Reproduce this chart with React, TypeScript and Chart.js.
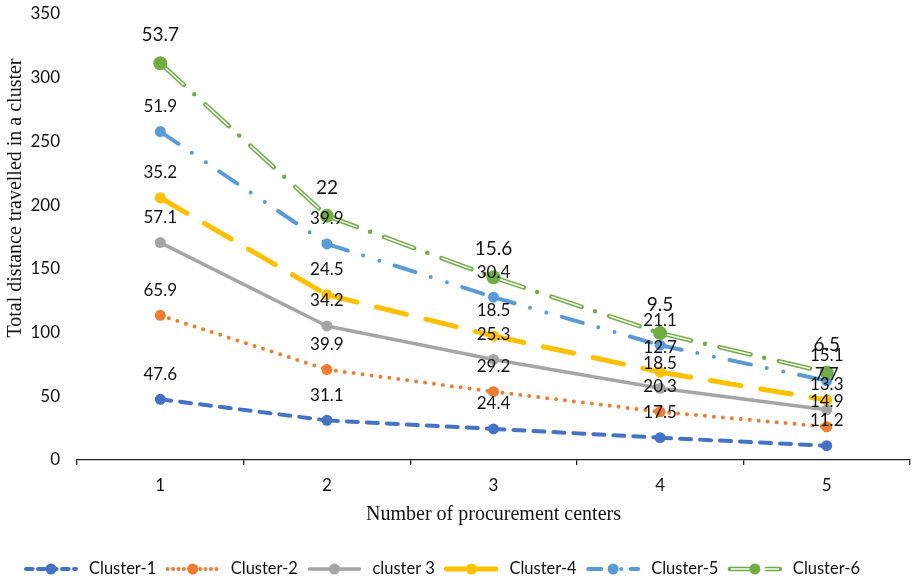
import { useEffect, useRef } from "react";
import { Chart, registerables } from "chart.js";

Chart.register(...registerables);

// Number of procurement centers (x categories)
const centers = ["1", "2", "3", "4", "5"];

// Distance travelled within each cluster, per number of centers
const cluster1 = [47.6, 31.1, 24.4, 17.5, 11.2];
const cluster2 = [65.9, 39.9, 29.2, 20.3, 14.9];
const cluster3 = [57.1, 34.2, 25.3, 18.5, 13.3];
const cluster4 = [35.2, 24.5, 18.5, 12.7, 7.7];
const cluster5 = [51.9, 39.9, 30.4, 21.1, 15.1];
const cluster6 = [53.7, 22, 15.6, 9.5, 6.5];

const seriesNames = ["Cluster-1", "Cluster-2", "cluster 3", "Cluster-4", "Cluster-5", "Cluster-6"];
const seriesValues = [cluster1, cluster2, cluster3, cluster4, cluster5, cluster6];

const yMin = 0;
const yMax = 350;
const yStep = 50;

const xTitle = "Number of procurement centers";
const yTitle = "Total distance travelled in a cluster";

type LineStyle = {
  color: string;
  width: number;
  dash: number[];
  radius: number;
  labelFont: number;
  labelGap: number;
  double?: boolean;
};

const lineStyles: LineStyle[] = [
  { color: "#4472C4", width: 4, dash: [11, 9], radius: 5.5, labelFont: 17, labelGap: 25 },
  { color: "#ED7D31", width: 4, dash: [0, 9], radius: 5.5, labelFont: 17, labelGap: 25 },
  { color: "#A5A5A5", width: 3.5, dash: [], radius: 5.5, labelFont: 17, labelGap: 25 },
  { color: "#FFC000", width: 5, dash: [31, 20], radius: 5.5, labelFont: 17, labelGap: 25 },
  { color: "#5B9BD5", width: 4, dash: [22, 16, 0, 17, 0, 16], radius: 5.5, labelFont: 17, labelGap: 25 },
  { color: "#70AD47", width: 4.5, dash: [32, 14, 0, 15], radius: 7, labelFont: 19, labelGap: 28, double: true },
];

const SANS = "Lato, 'Open Sans', sans-serif";
const SERIF = "'Liberation Serif', 'Times New Roman', serif";
const INK = "#111";

// Each series sits on top of the ones before it (running totals)
const cumulative: number[][] = [];
seriesValues.forEach((vals, i) => {
  cumulative.push(vals.map((v, j) => (i === 0 ? 0 : cumulative[i - 1][j]) + v));
});

// restart the dash pattern at every point, one stroke per segment
const perSegment = {
  borderDashOffset: (c: any) => c.p0DataIndex * 0.001,
};

function buildDatasets() {
  const sets: any[] = [];
  seriesNames.forEach((name, i) => {
    const st = lineStyles[i];
    const base = {
      label: name,
      data: cumulative[i],
      borderColor: st.color,
      backgroundColor: st.color,
      borderWidth: st.width,
      borderDash: st.dash,
      borderCapStyle: "round",
      borderJoinStyle: "round",
      tension: 0,
      fill: false,
      segment: perSegment,
      pointBorderWidth: 0,
      pointBackgroundColor: st.color,
      pointBorderColor: st.color,
    };
    if (!st.double) {
      sets.push({ ...base, order: 20 - i, pointRadius: st.radius, seriesIndex: i });
    } else {
      // double outline: coloured stroke, thin white core, then the markers
      sets.push({ ...base, order: 3, pointRadius: 0 });
      sets.push({
        label: name + "-core",
        data: cumulative[i],
        borderColor: "#ffffff",
        borderWidth: 1.5,
        borderDash: [st.dash[0], st.dash[1] + st.dash[2] + st.dash[3]],
        borderCapStyle: "butt",
        tension: 0,
        fill: false,
        segment: perSegment,
        pointRadius: 0,
        order: 2,
      });
      sets.push({
        label: name + "-points",
        data: cumulative[i],
        showLine: false,
        pointRadius: st.radius,
        pointBorderWidth: 0,
        pointBackgroundColor: st.color,
        pointBorderColor: st.color,
        order: 1,
        seriesIndex: i,
      });
    }
  });
  return sets;
}

const valueLabels = {
  id: "valueLabels",
  afterDatasetsDraw(chart: any) {
    const ctx = chart.ctx;
    ctx.save();
    ctx.fillStyle = INK;
    ctx.textAlign = "center";
    ctx.textBaseline = "middle";
    chart.data.datasets.forEach((ds: any, di: number) => {
      if (ds.seriesIndex === undefined) return;
      const st = lineStyles[ds.seriesIndex];
      const vals = seriesValues[ds.seriesIndex];
      ctx.font = `${st.labelFont}px ${SANS}`;
      const meta = chart.getDatasetMeta(di);
      meta.data.forEach((pt: any, j: number) => {
        ctx.fillText(String(vals[j]), pt.x, pt.y - st.labelGap);
      });
    });
    ctx.restore();
  },
};

function drawSample(ctx: CanvasRenderingContext2D, st: LineStyle, x0: number, x1: number, y: number) {
  ctx.save();
  ctx.lineCap = "round";
  ctx.strokeStyle = st.color;
  ctx.lineWidth = st.width;
  ctx.setLineDash(st.dash.length ? st.dash.map((d) => d * 0.6) : []);
  ctx.beginPath();
  ctx.moveTo(x0, y);
  ctx.lineTo(x1, y);
  ctx.stroke();
  if (st.double) {
    ctx.strokeStyle = "#fff";
    ctx.lineWidth = 1.5;
    ctx.lineCap = "butt";
    ctx.setLineDash([]);
    ctx.beginPath();
    ctx.moveTo(x0 + 1, y);
    ctx.lineTo(x1 - 1, y);
    ctx.stroke();
  }
  ctx.setLineDash([]);
  ctx.fillStyle = st.color;
  ctx.beginPath();
  ctx.arc((x0 + x1) / 2, y, 5.5, 0, Math.PI * 2);
  ctx.fill();
  ctx.restore();
}

const chrome = {
  id: "chrome",
  afterDraw(chart: any) {
    const ctx = chart.ctx;
    const area = chart.chartArea;
    ctx.save();
    ctx.fillStyle = INK;
    ctx.font = `20px ${SERIF}`;
    ctx.textAlign = "center";
    ctx.textBaseline = "middle";
    ctx.fillText(xTitle, (area.left + area.right) / 2, 515);
    ctx.save();
    ctx.translate(16, 198);
    ctx.rotate(-Math.PI / 2);
    ctx.fillText(yTitle, 0, 0);
    ctx.restore();

    // legend row
    ctx.font = `16.5px ${SANS}`;
    ctx.textAlign = "left";
    const y = 569;
    let x = 26;
    seriesNames.forEach((name, i) => {
      drawSample(ctx, lineStyles[i], x, x + 50, y);
      const tx = x + 63;
      ctx.fillStyle = INK;
      ctx.fillText(name, tx, y);
      x = tx + ctx.measureText(name).width + 11.5;
    });
    ctx.restore();
  },
};

export default function App() {
  const ref = useRef<HTMLCanvasElement | null>(null);

  useEffect(() => {
    document.body.style.margin = "0";
    const canvas = ref.current;
    if (!canvas) return;
    const chart = new Chart(canvas, {
      type: "line",
      data: { labels: centers, datasets: buildDatasets() },
      plugins: [valueLabels, chrome],
      options: {
        responsive: false,
        animation: false,
        devicePixelRatio: 1,
        layout: { padding: { top: 14, right: 1, bottom: 28, left: 0 } },
        plugins: {
          legend: { display: false },
          tooltip: { enabled: false },
          title: { display: false },
        },
        scales: {
          x: {
            type: "category",
            offset: true,
            border: { display: true, color: "#222", width: 1.3 },
            grid: {
              display: true,
              offset: true,
              drawOnChartArea: false,
              drawTicks: true,
              tickLength: 5,
              color: "#222",
              lineWidth: 1.3,
            },
            ticks: { color: INK, font: { family: SANS, size: 17 }, padding: 10 },
            afterFit: (s: any) => {
              s.height = 95;
              s.paddingLeft = 0;
              s.paddingRight = 0;
            },
          },
          y: {
            min: yMin,
            max: yMax,
            border: { display: false },
            grid: { display: false, drawTicks: false },
            ticks: {
              stepSize: yStep,
              color: INK,
              font: { family: SANS, size: 17 },
              padding: 17,
            },
            afterFit: (s: any) => {
              s.width = 77;
              s.paddingTop = 0;
              s.paddingBottom = 0;
            },
          },
        },
      } as any,
    });
    return () => chart.destroy();
  }, []);

  return (
    <div style={{ width: 917, height: 583 }}>
      <canvas ref={ref} width={917} height={583} />
    </div>
  );
}
